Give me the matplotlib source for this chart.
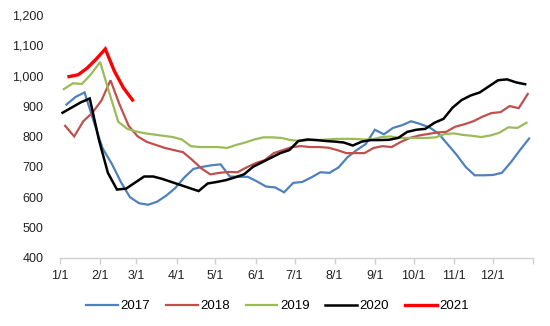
import numpy as np
import matplotlib.pyplot as plt
from matplotlib.ticker import FuncFormatter

# weekly prices, first point is the first Friday (day of year) of each year
start_2017 = 5
start_2018 = 4
start_2019 = 3
start_2020 = 2
start_2021 = 7

v2017 = [905, 930, 945, 850, 760, 710, 650, 600, 580, 575, 585, 605, 630, 665,
         693, 700, 705, 708, 668, 667, 667, 652, 635, 632, 616, 647, 650, 665,
         682, 680, 698, 732, 755, 775, 822, 807, 828, 837, 850, 841, 830, 810,
         775, 740, 700, 672, 672, 673, 680, 715, 755, 793]
v2018 = [835, 800, 850, 878, 918, 985, 905, 835, 800, 782, 772, 762, 755, 748,
         723, 695, 675, 680, 683, 682, 698, 712, 722, 745, 755, 765, 768, 765,
         765, 763, 755, 745, 745, 745, 762, 768, 765, 782, 795, 803, 808, 813,
         815, 832, 840, 850, 865, 877, 880, 900, 893, 940]
v2019 = [956, 975, 973, 1005, 1045, 945, 848, 825, 816, 810, 806, 802, 798, 790,
         768, 765, 765, 765, 762, 772, 780, 790, 797, 797, 795, 788, 785, 788,
         788, 790, 792, 792, 792, 790, 790, 798, 800, 795, 795, 795, 795, 797,
         808, 810, 805, 802, 798, 803, 812, 830, 828, 845]
v2020 = [878, 895, 912, 925, 790, 680, 625, 628, 648, 668, 668, 660, 650, 640,
         630, 620, 645, 650, 656, 665, 675, 700, 715, 730, 745, 755, 785, 790,
         788, 785, 783, 780, 770, 783, 788, 788, 789, 795, 815, 822, 825, 845,
         858, 895, 920, 935, 945, 965, 985, 988, 978, 972]
v2021 = [997, 1003, 1025, 1055, 1088, 1015, 960, 920]

month_days = [0, 31, 59, 90, 120, 151, 181, 212, 243, 273, 304, 334, 365]
month_labels = ['1/1', '2/1', '3/1', '4/1', '5/1', '6/1', '7/1', '8/1', '9/1',
                '10/1', '11/1', '12/1', '']

series = [
    ('2017', start_2017, v2017, '#4F81BD', 1.6),
    ('2018', start_2018, v2018, '#C0504D', 1.6),
    ('2019', start_2019, v2019, '#9BBB59', 1.6),
    ('2020', start_2020, v2020, '#000000', 1.8),
    ('2021', start_2021, v2021, '#FF0000', 2.4),
]

plt.rcParams['font.family'] = ['Liberation Sans', 'DejaVu Sans']
plt.rcParams['font.size'] = 9

fig = plt.figure(figsize=(5.5, 3.26), dpi=100)
ax = fig.add_axes([0.109, 0.209, 0.86, 0.745])

for name, start, vals, color, lw in series:
    days = start + 7 * np.arange(len(vals))
    ax.plot(days, vals, color=color, lw=lw, label=name, solid_joinstyle='miter')

ax.set_xlim(0, 365)
ax.set_ylim(400, 1200)
ax.set_yticks(range(400, 1201, 100))
ax.yaxis.set_major_formatter(FuncFormatter(lambda v, p: '{:,.0f}'.format(v)))
ax.set_xticks(month_days)
ax.set_xticklabels(month_labels)

for s in ['top', 'right', 'left']:
    ax.spines[s].set_visible(False)
ax.spines['bottom'].set_color('#D0D0D0')
ax.spines['bottom'].set_linewidth(1.0)
ax.tick_params(axis='y', length=0, pad=12, labelcolor='#222222', labelsize=9)
ax.tick_params(axis='x', length=4, width=1.0, color='#D0D0D0', pad=4.5,
               labelcolor='#222222', labelsize=9)

ax.legend(loc='upper center', bbox_to_anchor=(0.46, -0.125), ncol=5, frameon=False,
          handlelength=2.4, handletextpad=0.2, columnspacing=1.2, fontsize=9.5)

fig.savefig('out.png', dpi=100)
